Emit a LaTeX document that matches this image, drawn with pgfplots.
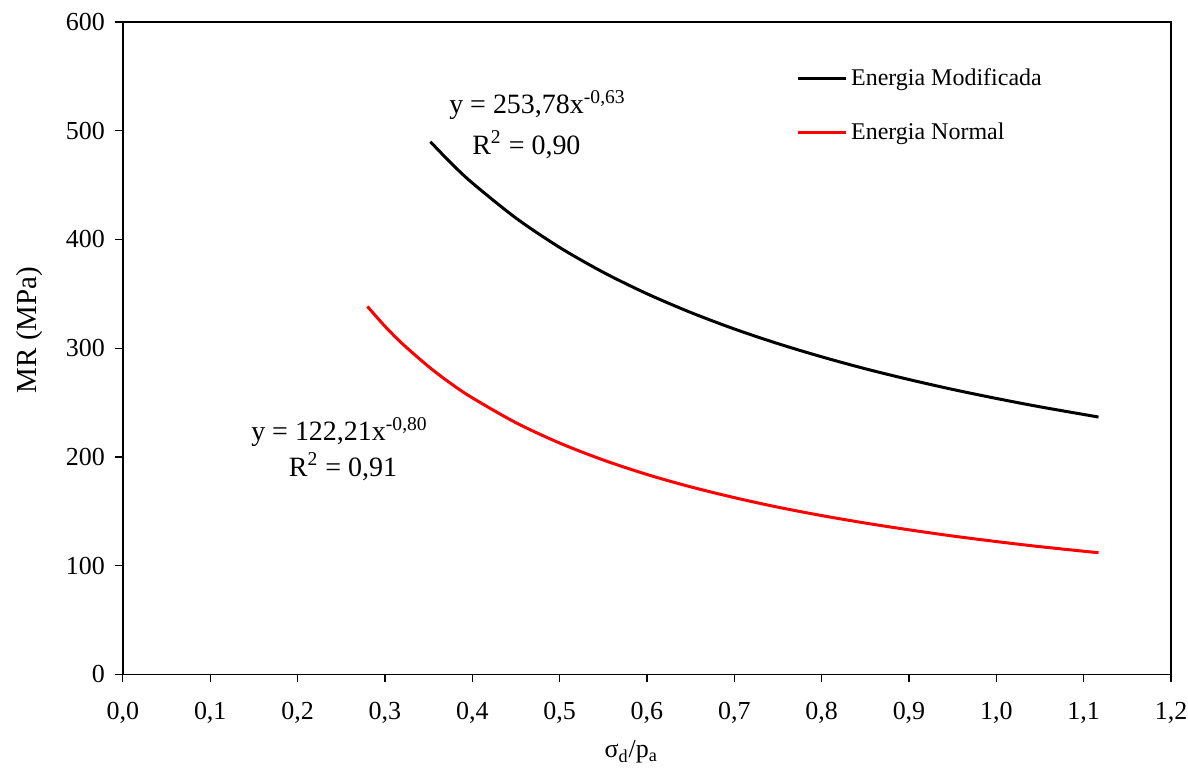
\documentclass[border=0pt]{standalone}
\usepackage{fontspec}
\setmainfont{Liberation Serif}
\usepackage{pgfplots}
\pgfplotsset{compat=1.18}
\begin{document}
\fontsize{12pt}{14pt}\selectfont
\begin{tikzpicture}
\begin{axis}[
  name=ax,
  scale only axis,
  width=524.5pt, height=326.5pt,
  xmin=0, xmax=1.2, ymin=0, ymax=600,
  xtick={0,0.1,...,1.2},
  ytick={0,100,...,600},
  tick align=outside,
  tick pos=left,
  major tick length=4pt,
  axis line style={line width=0.8pt},
  tick style={black, line width=0.6pt},
  /pgf/number format/assume math mode=true,
  ticklabel style={font=\fontsize{13pt}{15pt}\selectfont, inner sep=0pt},
  xticklabel style={yshift=-9.8pt, /pgf/number format/fixed, /pgf/number format/fixed zerofill, /pgf/number format/precision=1, /pgf/number format/use comma},
  yticklabel style={xshift=-4.8pt, /pgf/number format/fixed, /pgf/number format/precision=0},
  xlabel={σ\textsubscript{d}/p\textsubscript{a}},
  ylabel={MR (MPa)},
  xlabel style={at={(axis description cs:0.485,-0.119)}, anchor=center, font=\fontsize{13pt}{15pt}\selectfont},
  ylabel style={at={(axis description cs:-0.0887,0.528)}, anchor=center, font=\fontsize{14.5pt}{17pt}\selectfont},
  legend style={draw=none, fill=none, at={(0.637,0.942)}, anchor=north west,
    row sep=13pt, font=\fontsize{12pt}{14pt}\selectfont},
  legend cell align=left,
  legend image code/.code={\draw[#1] (0cm,0cm) -- (0.83cm,0cm);},
  every axis plot/.append style={line width=1.5pt},
]
\addplot[black, smooth] coordinates {
 (0.352,489.9) (0.375,470.8) (0.40,452.0) (0.45,419.7) (0.50,392.7) (0.55,369.8)
 (0.60,350.1) (0.65,332.9) (0.70,317.7) (0.75,304.2) (0.80,292.1) (0.85,281.1)
 (0.90,271.2) (0.95,262.1) (1.00,253.8) (1.05,246.1) (1.117,236.7)
};
\addlegendentry{Energia Modificada}
\addplot[red, smooth] coordinates {
 (0.28,338.4) (0.30,320.2) (0.32,304.1) (0.35,283.1) (0.375,267.8) (0.40,254.4)
 (0.45,231.5) (0.50,212.8) (0.55,197.2) (0.60,183.9) (0.65,172.5) (0.70,162.6)
 (0.75,153.8) (0.80,146.1) (0.85,139.2) (0.90,133.0) (0.95,127.3) (1.00,122.2)
 (1.05,117.5) (1.117,111.9)
};
\addlegendentry{Energia Normal}
\begin{scope}[every node/.style={font=\fontsize{14pt}{16pt}\selectfont}]
\node at (axis cs:0.4747,523.7) {y = 253,78x\textsuperscript{-0,63}};
\node at (axis cs:0.462,487) {R\textsuperscript{2} = 0,90};
\node at (axis cs:0.248,223) {y = 122,21x\textsuperscript{-0,80}};
\node at (axis cs:0.252,191) {R\textsuperscript{2} = 0,91};
\end{scope}
\end{axis}
\path (ax.south west) ++(-61.5pt,-46pt) coordinate (bl);
\path (ax.north east) ++(8.5pt,11pt) coordinate (tr);
\path (bl) rectangle (tr);
\end{tikzpicture}
\end{document}
